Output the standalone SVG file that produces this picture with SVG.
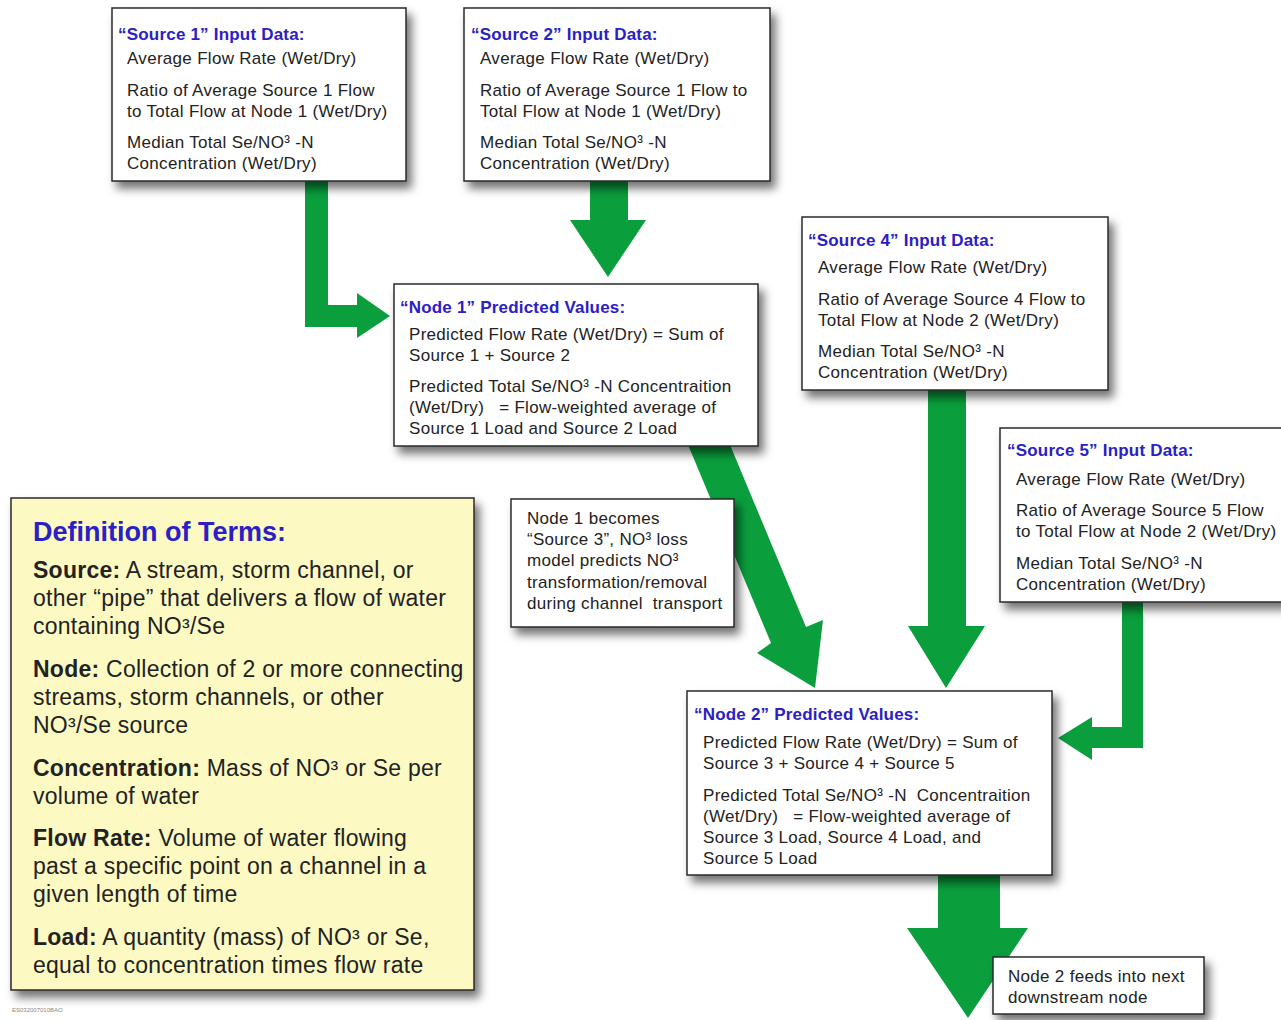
<svg xmlns="http://www.w3.org/2000/svg" width="1281" height="1020" viewBox="0 0 1281 1020">
<defs>
<filter id="sh" x="-10%" y="-10%" width="130%" height="140%">
<feDropShadow dx="5" dy="7" stdDeviation="5" flood-color="#000" flood-opacity="0.55"/>
</filter>
<style>
.box{fill:#fff;stroke:#2a2a2a;stroke-width:1.5;filter:url(#sh)}
.ybox{fill:#fcfac2;stroke:#2a2a2a;stroke-width:1.5;filter:url(#sh)}
.arr{fill:#0a9e3c}
text{font-family:"Liberation Sans",Arial,Helvetica,sans-serif;fill:#222}
.t{font-size:17px;font-weight:bold;fill:#2b20c4;letter-spacing:0.2px}
.b{font-size:17px;letter-spacing:0.3px}
.dt{font-size:27px;font-weight:bold;fill:#2b20c4}
.d{font-size:23px;letter-spacing:0.25px}
.d tspan.k{font-weight:bold}
.tiny{font-size:6px;fill:#888}
</style>
</defs>
<rect width="1281" height="1020" fill="#fff"/>
<g id="connectors">
<path class="arr" d="M305,181 H328 V305 H357 V293 L390,316 L357,338 V327 H305 Z"/>
<path class="arr" d="M590,181 H628 V220 H646 L608,277 L570,220 H590 Z"/>
<path class="arr" d="M686,440 L728,440 L806,627 L823,620 L815,688 L757,653 L771,643 Z"/>
<path class="arr" d="M928,390 H966 V626 H985 L946,688 L908,626 H928 Z"/>
<path class="arr" d="M1122,602 H1143 V748 H1092 V760 L1058,738 L1092,717 V727 H1122 Z"/>
<path class="arr" d="M938,875 H1000 V928 H1028 L968,1018 L907,928 H938 Z"/>
</g>
<g id="source1">
<rect class="box" x="112" y="8" width="294" height="173"/>
<text class="t" x="118" y="40">“Source 1” Input Data:</text>
<text class="b" x="127" y="64">Average Flow Rate (Wet/Dry)</text>
<text class="b" x="127" y="96">Ratio of Average Source 1 Flow</text>
<text class="b" x="127" y="117">to Total Flow at Node 1 (Wet/Dry)</text>
<text class="b" x="127" y="148">Median Total Se/NO³ -N</text>
<text class="b" x="127" y="169">Concentration (Wet/Dry)</text>
</g>
<g id="source2">
<rect class="box" x="464" y="8" width="306" height="173"/>
<text class="t" x="471" y="40">“Source 2” Input Data:</text>
<text class="b" x="480" y="64">Average Flow Rate (Wet/Dry)</text>
<text class="b" x="480" y="96">Ratio of Average Source 1 Flow to</text>
<text class="b" x="480" y="117">Total Flow at Node 1 (Wet/Dry)</text>
<text class="b" x="480" y="148">Median Total Se/NO³ -N</text>
<text class="b" x="480" y="169">Concentration (Wet/Dry)</text>
</g>
<g id="node1">
<rect class="box" x="394" y="284" width="364" height="162"/>
<text class="t" x="400" y="313">“Node 1” Predicted Values:</text>
<text class="b" x="409" y="340">Predicted Flow Rate (Wet/Dry) = Sum of</text>
<text class="b" x="409" y="361">Source 1 + Source 2</text>
<text class="b" x="409" y="392">Predicted Total Se/NO³ -N Concentraition</text>
<text class="b" x="409" y="413" xml:space="preserve">(Wet/Dry)   = Flow-weighted average of</text>
<text class="b" x="409" y="434">Source 1 Load and Source 2 Load</text>
</g>
<g id="source4">
<rect class="box" x="802" y="217" width="306" height="173"/>
<text class="t" x="808" y="246">“Source 4” Input Data:</text>
<text class="b" x="818" y="273">Average Flow Rate (Wet/Dry)</text>
<text class="b" x="818" y="305">Ratio of Average Source 4 Flow to</text>
<text class="b" x="818" y="326">Total Flow at Node 2 (Wet/Dry)</text>
<text class="b" x="818" y="357">Median Total Se/NO³ -N</text>
<text class="b" x="818" y="378">Concentration (Wet/Dry)</text>
</g>
<g id="source5">
<rect class="box" x="1000" y="428" width="290" height="174"/>
<text class="t" x="1007" y="456">“Source 5” Input Data:</text>
<text class="b" x="1016" y="485">Average Flow Rate (Wet/Dry)</text>
<text class="b" x="1016" y="516">Ratio of Average Source 5 Flow</text>
<text class="b" x="1016" y="537">to Total Flow at Node 2 (Wet/Dry)</text>
<text class="b" x="1016" y="569">Median Total Se/NO³ -N</text>
<text class="b" x="1016" y="590">Concentration (Wet/Dry)</text>
</g>
<g id="note1">
<rect class="box" x="511" y="499" width="223" height="128"/>
<text class="b" x="527" y="524">Node 1 becomes</text>
<text class="b" x="527" y="545">“Source 3”, NO³ loss</text>
<text class="b" x="527" y="566">model predicts NO³</text>
<text class="b" x="527" y="588">transformation/removal</text>
<text class="b" x="527" y="609" xml:space="preserve">during channel  transport</text>
</g>
<g id="definitions">
<rect class="ybox" x="11" y="498" width="463" height="492"/>
<text class="dt" x="33" y="541">Definition of Terms:</text>
<text class="d" x="33" y="578"><tspan class="k">Source:</tspan> A stream, storm channel, or</text>
<text class="d" x="33" y="606">other “pipe” that delivers a flow of water</text>
<text class="d" x="33" y="634">containing NO³/Se</text>
<text class="d" x="33" y="677"><tspan class="k">Node:</tspan> Collection of 2 or more connecting</text>
<text class="d" x="33" y="705">streams, storm channels, or other</text>
<text class="d" x="33" y="733">NO³/Se source</text>
<text class="d" x="33" y="776"><tspan class="k">Concentration:</tspan> Mass of NO³ or Se per</text>
<text class="d" x="33" y="804">volume of water</text>
<text class="d" x="33" y="846"><tspan class="k">Flow Rate:</tspan> Volume of water flowing</text>
<text class="d" x="33" y="874">past a specific point on a channel in a</text>
<text class="d" x="33" y="902">given length of time</text>
<text class="d" x="33" y="945"><tspan class="k">Load:</tspan> A quantity (mass) of NO³ or Se,</text>
<text class="d" x="33" y="973">equal to concentration times flow rate</text>
</g>
<g id="node2">
<rect class="box" x="687" y="691" width="365" height="184"/>
<text class="t" x="694" y="720">“Node 2” Predicted Values:</text>
<text class="b" x="703" y="748">Predicted Flow Rate (Wet/Dry) = Sum of</text>
<text class="b" x="703" y="769">Source 3 + Source 4 + Source 5</text>
<text class="b" x="703" y="801" xml:space="preserve">Predicted Total Se/NO³ -N  Concentraition</text>
<text class="b" x="703" y="822" xml:space="preserve">(Wet/Dry)   = Flow-weighted average of</text>
<text class="b" x="703" y="843">Source 3 Load, Source 4 Load, and</text>
<text class="b" x="703" y="864">Source 5 Load</text>
</g>
<g id="note2">
<rect class="box" x="993" y="957" width="211" height="57"/>
<text class="b" x="1008" y="982">Node 2 feeds into next</text>
<text class="b" x="1008" y="1003">downstream node</text>
</g>
<text class="tiny" x="12" y="1012">ES032007010BAO</text>
</svg>
